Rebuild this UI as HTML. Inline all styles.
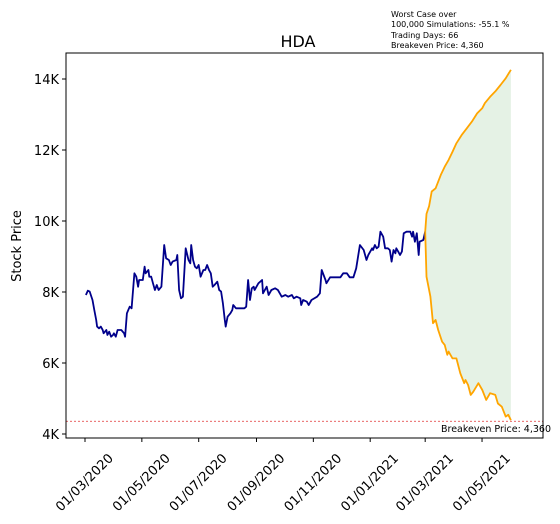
<!DOCTYPE html>
<html><head><meta charset="utf-8"><style>
html,body{margin:0;padding:0;background:#fff;}
svg{display:block;font-family:"DejaVu Sans","Liberation Sans",sans-serif;}
</style></head><body>
<svg id="chart" width="560" height="524" viewBox="0 0 560 524" xmlns="http://www.w3.org/2000/svg">
<rect width="560" height="524" fill="#fff"/>
<g font-size="8" fill="#000">
<text x="391" y="17">Worst Case over</text>
<text x="391" y="27">100,000 Simulations: -55.1 %</text>
<text x="391" y="38">Trading Days: 66</text>
<text x="391" y="48">Breakeven Price: 4,360</text>
</g>
<text x="298" y="47" font-size="16" text-anchor="middle">HDA</text>
<text transform="translate(21,246) rotate(-90)" font-size="13" text-anchor="middle">Stock Price</text>
<g id="plot"></g>
<rect x="66" y="53" width="477" height="385" fill="none" stroke="#000" stroke-width="1"/>
</svg>
<script>
const histDays=[1,3,5,8,10,12,13,15,17,19,20,23,24,26,28,30,31,33,35,39,42,43,45,48,50,53,55,57,58,62,64,65,68,69,71,73,75,77,79,82,85,87,90,92,94,98,99,101,103,105,108,111,113,114,116,118,120,122,124,127,129,131,133,135,137,139,142,144,146,148,150,151,153,156,158,159,162,166,171,173,175,177,179,181,182,186,190,191,195,197,200,204,207,211,215,218,222,224,227,231,232,234,238,240,243,249,252,254,258,259,263,274,277,281,284,288,291,295,299,302,304,308,309,311,313,315,317,320,322,325,327,329,331,333,334,336,338,340,342,345,349,351,352,354,356,358,359,363,365];
const histValues=[7916,8037,8010,7775,7493,7211,7024,6977,7024,6930,6836,6930,6789,6883,6742,6789,6836,6742,6930,6930,6836,6742,7399,7587,7540,8527,8432,8150,8338,8338,8714,8527,8620,8432,8432,8245,8056,8197,8056,8150,9324,8949,8902,8761,8855,8902,9042,8056,7822,7869,9231,8902,8808,9324,8902,8714,8668,8761,8432,8620,8620,8761,8620,8527,8150,8197,8291,8056,8010,7681,7211,7024,7305,7399,7493,7634,7540,7540,7540,7587,8338,7775,8104,8150,8056,8245,8338,7963,8150,7916,8056,8104,8056,7869,7916,7869,7916,7822,7869,7822,7634,7775,7728,7634,7775,7869,7963,8620,8338,8245,8413,8413,8527,8527,8413,8413,8668,9324,9183,8902,9042,9231,9183,9324,9231,9277,9700,9559,9231,9231,9183,8855,9183,9090,9231,9137,9042,9137,9653,9700,9700,9559,9700,9418,9653,9042,9418,9465,9700];
const upperSteps=[0,1,3,5,8,12,15,18,21,24,28,32,36,40,44,46,50,54,58,62,66];
const upperValues=[9700,10200,10420,10830,10920,11300,11530,11720,11950,12190,12420,12610,12800,13030,13180,13320,13500,13650,13830,14020,14260];
const lowerSteps=[0,1,3,4,6,8,10,13,15,17,18,21,24,27,30,31,33,35,37,41,44,47,50,54,56,59,62,64,66];
const lowerValues=[9700,8430,8060,7870,7120,7210,6930,6600,6510,6230,6320,6130,6130,5710,5430,5520,5380,5100,5190,5430,5240,4960,5150,5100,4860,4770,4490,4540,4390];
const yTicks=[4000,6000,8000,10000,12000,14000];
const yTickLabels=["4K","6K","8K","10K","12K","14K"];
const xTickDays=[0,61,122,184,245,306,365,426];
const xTickLabels=["01/03/2020","01/05/2020","01/07/2020","01/09/2020","01/11/2020","01/01/2021","01/03/2021","01/05/2021"];
const breakeven=4360;
const forecastStartDay=365, tradingDays=66, forecastCalendarDays=92;

const NS="http://www.w3.org/2000/svg";
const plot=document.getElementById('plot');
const X=d=>85+d*0.932;
const Y=v=>434-(v-4000)*0.0355;
const SX=k=>X(forecastStartDay+k*forecastCalendarDays/tradingDays);
function mk(tag,attrs){const e=document.createElementNS(NS,tag);for(const k in attrs)e.setAttribute(k,attrs[k]);plot.appendChild(e);return e;}

let fd='';
upperSteps.forEach((k,i)=>{fd+=(i?'L':'M')+SX(k).toFixed(1)+','+Y(upperValues[i]).toFixed(1);});
for(let i=lowerSteps.length-1;i>=0;i--){fd+='L'+SX(lowerSteps[i]).toFixed(1)+','+Y(lowerValues[i]).toFixed(1);}
const fill=mk('path',{d:fd+'Z',fill:'#e5f2e5',stroke:'none'});



const hp=mk('polyline',{points:histDays.map((d,i)=>X(d).toFixed(1)+','+Y(histValues[i]).toFixed(1)).join(' '),fill:'none',stroke:'#00008b','stroke-width':1.8,'stroke-linejoin':'round'});



const up=mk('polyline',{points:upperSteps.map((k,i)=>SX(k).toFixed(1)+','+Y(upperValues[i]).toFixed(1)).join(' '),fill:'none',stroke:'#ffa500','stroke-width':1.8,'stroke-linejoin':'round'});



const lo=mk('polyline',{points:lowerSteps.map((k,i)=>SX(k).toFixed(1)+','+Y(lowerValues[i]).toFixed(1)).join(' '),fill:'none',stroke:'#ffa500','stroke-width':1.8,'stroke-linejoin':'round'});



const bl=mk('line',{x1:66,x2:543,y1:Y(breakeven),y2:Y(breakeven),stroke:'#e03030','stroke-width':0.7,'stroke-dasharray':'2,2'});


const bt=mk('text',{x:551,y:Y(breakeven)+11,'font-size':9.5,'text-anchor':'end'});
bt.textContent='Breakeven Price: '+breakeven.toLocaleString('en-US');



yTicks.forEach((v,i)=>{
  const t=mk('line',{x1:62,x2:66,y1:Y(v),y2:Y(v),stroke:'#000','stroke-width':1});
  
  
  const l=mk('text',{x:59,y:Y(v)+5,'font-size':13,'text-anchor':'end'});
  l.textContent=yTickLabels[i];
  
  
});
xTickDays.forEach((d,i)=>{
  const x=X(d);
  const t=mk('line',{x1:x,x2:x,y1:438,y2:442,stroke:'#000','stroke-width':1});
  
  
  const l=mk('text',{transform:'translate('+x+',483) rotate(-45)','font-size':13,'text-anchor':'middle','dominant-baseline':'central'});
  l.textContent=xTickLabels[i];
  
  
});
</script>
</body></html>
